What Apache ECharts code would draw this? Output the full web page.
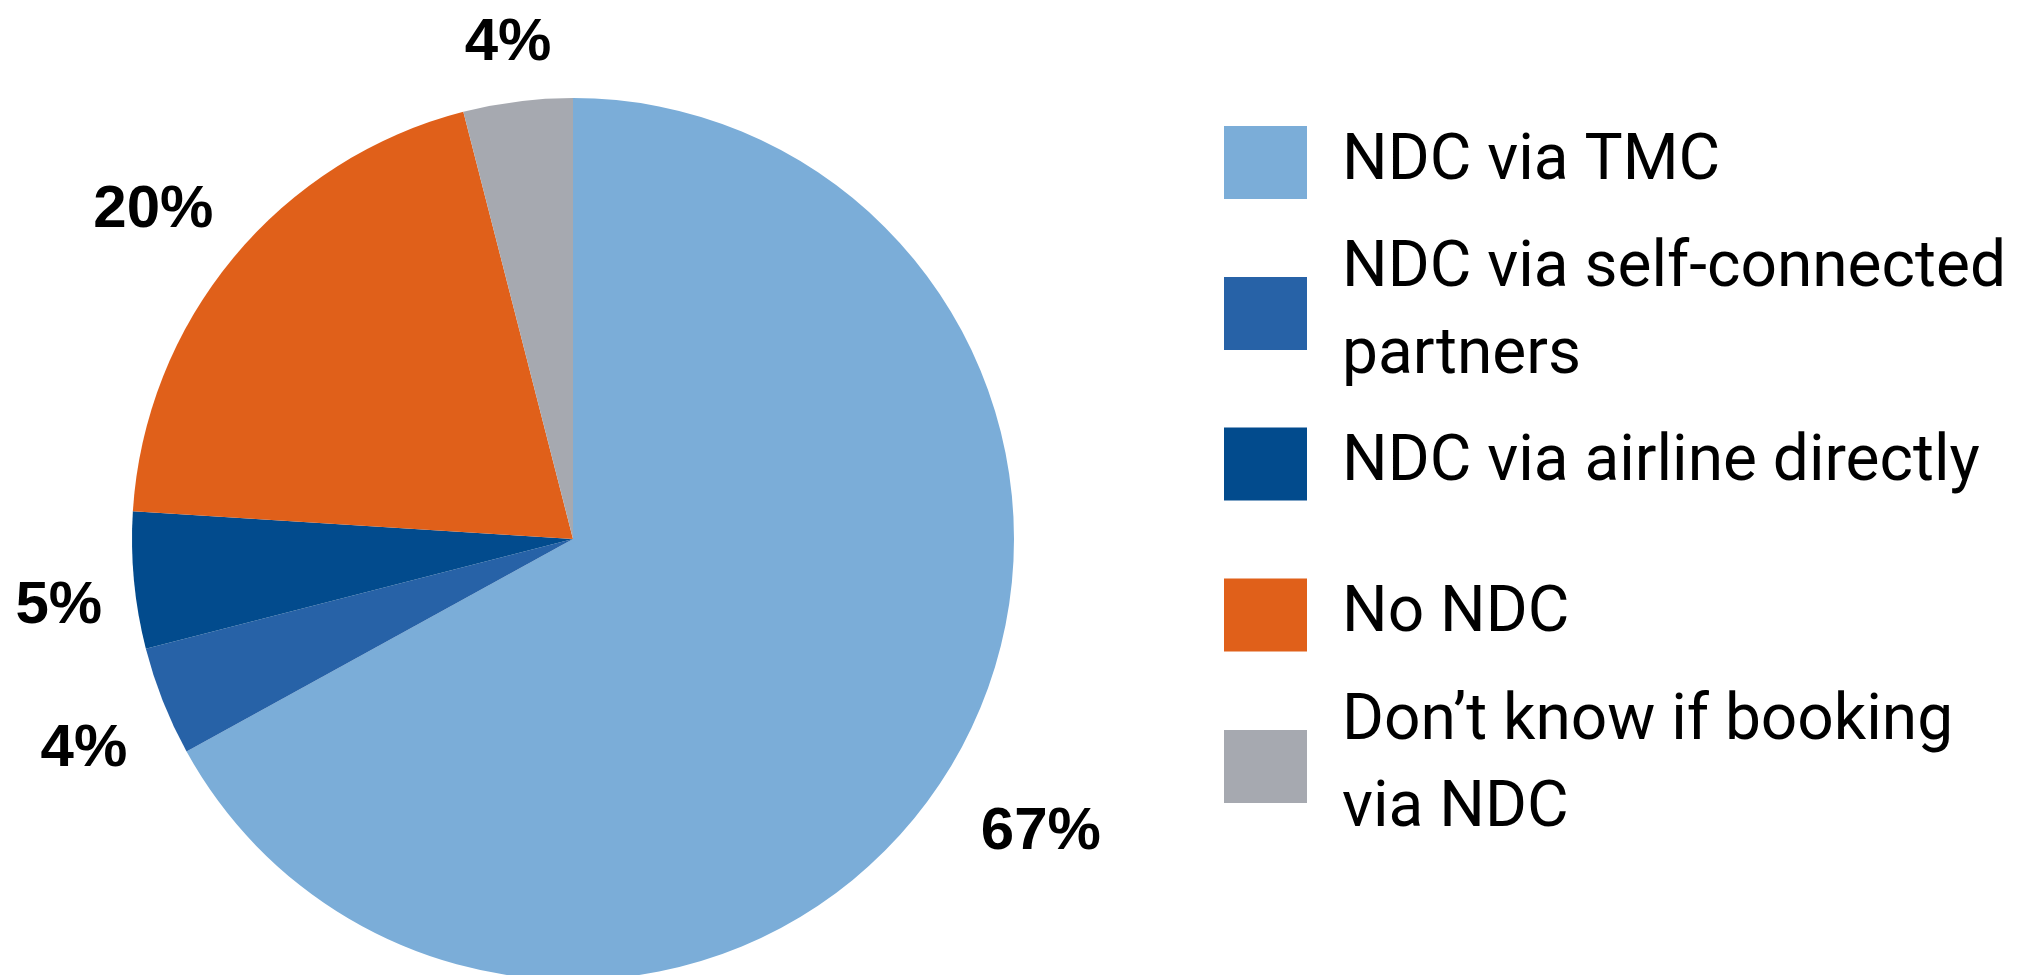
<!DOCTYPE html>
<html><head><meta charset="utf-8">
<script src="https://cdn.jsdelivr.net/npm/echarts@6/dist/echarts.min.js"></script>
<style>html,body{margin:0;padding:0;background:#fff}#c{width:2022px;height:975px}</style>
</head><body><div id="c"></div>
<script>
// ---- data ----
const categories = ['NDC via TMC', 'NDC via self-connected partners', 'NDC via airline directly', 'No NDC', 'Don\u2019t know if booking via NDC'];
const values = [67, 4, 5, 20, 4];
const legendLabels = ['NDC via TMC', 'NDC via self-connected\npartners', 'NDC via airline directly', 'No NDC', 'Don\u2019t know if booking\nvia NDC'];

// ---- styles ----
const colors = ['#7BADD8', '#2762A7', '#024B8D', '#E0601A', '#A6A9B0'];
const labelLen = [135, 132, 271, 75, 58];
const labelLen2 = [-93, -92, -243, -43, -46];
const legendTops = [119, 226.5, 420.5, 571.5, 679.5];

const chart = echarts.init(document.getElementById('c'), null, {renderer: 'canvas'});

const seriesData = categories.map((name, i) => ({
  name: name,
  value: values[i],
  itemStyle: {color: colors[i]},
  labelLine: {show: false, length: labelLen[i], length2: labelLen2[i]}
}));

const legends = categories.map((name, i) => ({
  data: [name],
  orient: 'vertical',
  left: 1224,
  top: legendTops[i],
  padding: 0,
  icon: 'rect',
  itemWidth: 83,
  itemHeight: 73,
  selectedMode: false,
  formatter: (n) => legendLabels[categories.indexOf(n)],
  textStyle: {
    fontFamily: 'Roboto',
    fontSize: 64,
    lineHeight: 87,
    color: '#000',
    padding: [0, 0, 0, 30]
  }
}));

chart.setOption({
  animation: false,
  backgroundColor: '#fff',
  legend: legends,
  series: [{
    type: 'pie',
    center: [573, 539],
    radius: 441,
    startAngle: 90,
    clockwise: true,
    avoidLabelOverlap: false,
    data: seriesData,
    itemStyle: {borderWidth: 0},
    emphasis: {disabled: true},
    label: {
      show: true,
      position: 'outside',
      formatter: '{c}%',
      fontFamily: 'Liberation Sans',
      fontWeight: 'bold',
      fontSize: 60,
      color: '#000',
      distanceToLabelLine: 5
    },
    labelLine: {show: false}
  }]
});
</script>
</body></html>
